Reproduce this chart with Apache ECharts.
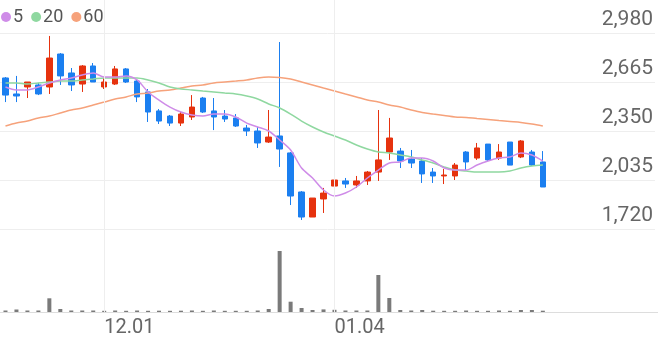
<!DOCTYPE html>
<html>
<head>
<meta charset="utf-8">
<script src="https://cdn.jsdelivr.net/npm/echarts@6/dist/echarts.min.js"></script>
<style>
html,body{margin:0;padding:0;background:#fff;}
#c{width:658px;height:342px;}
</style>
</head>
<body>
<div id="c"></div>
<script>
const dates = ['11.20','11.21','11.22','11.23','11.24','11.27','11.28','11.29','11.30','12.01','12.04','12.05','12.06','12.07','12.08','12.11','12.12','12.13','12.14','12.15','12.18','12.19','12.20','12.21','12.22','12.26','12.27','12.28','01.02','01.03','01.04','01.05','01.08','01.09','01.10','01.11','01.12','01.15','01.16','01.17','01.18','01.19','01.22','01.23','01.24','01.25','01.26','01.29','01.30','01.31'];
const futureDates = ['02.01','02.02','02.05','02.06','02.07','02.08','02.13','02.14','02.15','02.16'];
const labelDates = ['12.01','01.04'];
const maNames = ['5', '20', '60'];

const open  = [2691,2588,2633,2646,2633,2845,2723,2652,2768,2633,2652,2749,2671,2601,2479,2446,2401,2440,2562,2479,2446,2434,2369,2350,2279,2318,2209,1958,1797,1913,1996,2029,2003,2029,2086,2215,2221,2170,2157,2086,2061,2061,2215,2176,2266,2176,2279,2183,2215,2151];
const close = [2581,2575,2665,2588,2819,2704,2646,2768,2665,2665,2749,2665,2569,2472,2414,2401,2459,2504,2472,2440,2427,2382,2350,2273,2311,2234,1932,1797,1919,1951,2035,2009,2029,2086,2164,2305,2157,2144,2074,2061,2067,2131,2151,2241,2164,2215,2131,2286,2131,1990];
const low   = [2536,2536,2562,2581,2588,2646,2607,2601,2665,2620,2646,2659,2536,2408,2395,2382,2382,2421,2466,2356,2408,2376,2318,2241,2273,2119,1874,1778,1797,1823,1958,1984,1984,2003,2029,2164,2112,2112,2016,2016,2009,2035,2099,2164,2157,2164,2131,2176,2125,1990];
const high  = [2697,2704,2665,2659,2961,2851,2755,2774,2787,2691,2768,2755,2678,2620,2491,2453,2472,2581,2569,2562,2485,2459,2389,2376,2485,2922,2215,1964,1919,1984,2061,2048,2061,2093,2485,2434,2241,2228,2176,2112,2106,2144,2221,2273,2266,2266,2279,2292,2228,2221];

const ma5  = [2633,2614,2614,2633,2659,2678,2691,2710,2723,2697,2697,2704,2678,2601,2549,2504,2472,2453,2446,2459,2459,2440,2401,2376,2350,2292,2228,2112,2048,1971,1932,1951,1990,2048,2099,2144,2151,2176,2176,2157,2112,2099,2099,2131,2157,2176,2183,2209,2196,2157];
const ma20 = [2659,2659,2652,2659,2665,2671,2671,2678,2684,2691,2691,2691,2691,2678,2659,2633,2620,2614,2607,2601,2594,2588,2575,2556,2524,2498,2459,2414,2376,2344,2318,2292,2260,2234,2215,2209,2196,2183,2164,2144,2119,2099,2093,2086,2086,2086,2093,2112,2125,2131];
const ma60 = [2382,2401,2414,2434,2446,2466,2485,2498,2517,2536,2556,2569,2588,2594,2607,2614,2626,2639,2646,2659,2665,2671,2678,2691,2697,2694,2684,2665,2646,2626,2607,2588,2569,2549,2536,2517,2504,2485,2469,2459,2450,2440,2437,2430,2424,2417,2411,2405,2395,2382];

const volume = [15,25,15,15,137,30,15,15,15,12,15,12,15,12,13,12,13,15,12,15,12,12,12,15,30,610,103,40,20,26,22,15,15,15,370,140,20,15,20,13,12,12,15,12,12,15,12,20,20,13];

const yTicks = [1720, 2035, 2350, 2665, 2980];

const categories = dates.concat(futureDates);
const ohlc = open.map((o, i) => [o, close[i], low[i], high[i]]);

const RED = '#e6320e', BLUE = '#1b7ff0';
const FONT = 'Roboto';

const chart = echarts.init(document.getElementById('c'), null, {renderer: 'canvas'});
chart.setOption({
  animation: false,
  legend: {
    show: true, left: 1, top: 8, padding: 0, itemGap: 8, itemWidth: 10, itemHeight: 10,
    icon: 'circle',
    data: maNames,
    textStyle: {fontSize: 18, color: '#555', fontFamily: FONT, padding: [0, 0, 0, -3]}
  },
  grid: [
    {left: 0, right: 0, top: 33, bottom: 113},
    {left: 0, right: 0, top: 0, bottom: 30},
    {left: 0, right: 3, top: 33, bottom: 113}
  ],
  xAxis: [
    {type: 'category', gridIndex: 0, data: categories, boundaryGap: true, show: false},
    {type: 'category', gridIndex: 1, data: categories, boundaryGap: true,
      axisLine: {show: true, lineStyle: {color: '#dddddd', width: 1}},
      axisTick: {show: false},
      splitLine: {show: false},
      axisLabel: {
        interval: (i, v) => labelDates.includes(v),
        align: 'left', fontSize: 20, color: '#666', fontFamily: FONT, margin: 6
      }
    },
    {type: 'value', gridIndex: 2, min: 0, max: 1, show: false}
  ],
  yAxis: [
    {type: 'value', gridIndex: 0, min: yTicks[0], max: yTicks[yTicks.length - 1], show: false},
    {type: 'value', gridIndex: 1, min: 0, max: 3120, show: false},
    {type: 'value', gridIndex: 2, position: 'right',
      min: yTicks[0], max: yTicks[yTicks.length - 1], interval: yTicks[1] - yTicks[0],
      axisLine: {show: false}, axisTick: {show: false},
      splitLine: {show: true, lineStyle: {color: '#eeeeee', width: 1}},
      axisLabel: {
        inside: true, margin: 2, verticalAlign: 'bottom', padding: [0, 0, 3, 0],
        fontSize: 21, color: '#666', fontFamily: FONT,
        formatter: v => v.toLocaleString('en-US')
      }
    }
  ],
  series: [
    {
      name: 'vol', type: 'bar', xAxisIndex: 1, yAxisIndex: 1, data: volume,
      barWidth: 4, itemStyle: {color: '#7a7a7a'}, z: 1, silent: true,
      markLine: {
        symbol: 'none', silent: true, label: {show: false},
        lineStyle: {color: '#eeeeee', width: 1, type: 'solid'},
        data: labelDates.map(d => ({xAxis: d}))
      }
    },
    {
      name: 'K', type: 'candlestick', xAxisIndex: 0, yAxisIndex: 0, data: ohlc,
      barWidth: 6, z: 3,
      itemStyle: {color: RED, color0: BLUE, borderColor: RED, borderColor0: BLUE, borderWidth: 1}
    },
    {name: maNames[2], type: 'line', xAxisIndex: 0, yAxisIndex: 0, data: ma60, showSymbol: false, smooth: 0.3,
      lineStyle: {width: 1.5, color: '#f6a27b'}, itemStyle: {color: '#f6a27b'}, z: 4},
    {name: maNames[1], type: 'line', xAxisIndex: 0, yAxisIndex: 0, data: ma20, showSymbol: false, smooth: 0.3,
      lineStyle: {width: 1.5, color: '#8fd8a0'}, itemStyle: {color: '#8fd8a0'}, z: 4},
    {name: maNames[0], type: 'line', xAxisIndex: 0, yAxisIndex: 0, data: ma5, showSymbol: false, smooth: 0.3,
      lineStyle: {width: 1.5, color: '#cf8ce8'}, itemStyle: {color: '#cf8ce8'}, z: 4}
  ]
});
</script>
</body>
</html>
